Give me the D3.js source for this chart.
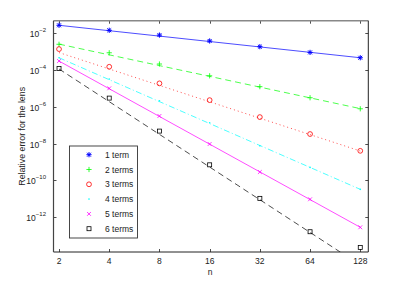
<!DOCTYPE html>
<html><head><meta charset="utf-8">
<script src="https://cdn.jsdelivr.net/npm/d3@7"></script>
<style>body{margin:0;background:#fff}svg{display:block;font-family:"Liberation Sans",Arial,sans-serif}</style>
</head><body><svg id="c" width="407" height="284"></svg>
<script>
const nValues = [2, 4, 8, 16, 32, 64, 128];
const seriesNames = ["1 term", "2 terms", "3 terms", "4 terms", "5 terms", "6 terms"];
// log10 of relative error at each n (markers)
const err1 = [-1.58, -1.85, -2.11, -2.43, -2.74, -3.05, -3.34];
const err2 = [-2.61, -3.07, -3.68, -4.32, -4.91, -5.51, -6.11];
const err3 = [-2.87, -3.83, -4.73, -5.64, -6.56, -7.48, -8.39];
const err4 = [-3.34, -4.50, -5.67, -6.87, -8.12, -9.29, -10.48];
const err5 = [-3.52, -5.00, -6.50, -8.02, -9.54, -11.02, -12.54];
const err6 = [-3.92, -5.53, -7.32, -9.15, -10.97, -12.78, -13.63];
// fitted lines: log10 values at n=2 and n=128
const fitN = [2, 128];
const fit1 = [-1.58, -3.34];
const fit2 = [-2.60, -6.10];
const fit3 = [-3.06, -8.40];
const fit4 = [-3.34, -10.48];
const fit5 = [-3.52, -12.54];
const fit6 = [-3.95, -14.59];
const yTickExps = [-2, -4, -6, -8, -10, -12];
const xLabel = "n";
const yLabel = "Relative error for the lens";

const colors = ["#0000ff", "#00ff00", "#ff0000", "#00ffff", "#ff00ff", "#000000"];
const dashes = [null, "6,4", "1,3", "6,2.5,1,2.5", null, "6,4"];
const markers = ["star", "plus", "circle", "dot", "cross", "square"];
const errs = [err1, err2, err3, err4, err5, err6];
const fits = [fit1, fit2, fit3, fit4, fit5, fit6];

const L = 53.5, R = 368.3, T = 20.7, B = 252;
const x = d3.scaleLog().base(2).domain([Math.pow(2, 0.89), Math.pow(2, 7.16)]).range([L, R]);
const y = d3.scaleLog().base(10).domain([Math.pow(10, -13.88), Math.pow(10, -1.33)]).range([B, T]);

const svg = d3.select("#c");
svg.append("defs").append("clipPath").attr("id", "clip")
  .append("rect").attr("x", L).attr("y", T).attr("width", R - L).attr("height", B - T);

svg.append("rect").attr("x", L).attr("y", T).attr("width", R - L).attr("height", B - T)
  .attr("fill", "#fff").attr("stroke", "none");

const FS = 8.5;
const tickLen = 3;
const g = svg.append("g");
nValues.forEach(n => {
  const px = Math.round(x(n)) + 0.5;
  g.append("line").attr("x1", px).attr("x2", px).attr("y1", B).attr("y2", B - tickLen).attr("stroke", "#222").attr("stroke-width", 0.8);
  g.append("line").attr("x1", px).attr("x2", px).attr("y1", T).attr("y2", T + tickLen).attr("stroke", "#222").attr("stroke-width", 0.8);
  g.append("text").attr("x", x(n)).attr("y", 263.8).attr("text-anchor", "middle")
    .attr("font-size", FS).attr("fill", "#222").text(n);
});
yTickExps.forEach(e => {
  const py = Math.round(y(Math.pow(10, e))) + 0.5;
  g.append("line").attr("x1", L).attr("x2", L + tickLen).attr("y1", py).attr("y2", py).attr("stroke", "#222").attr("stroke-width", 0.8);
  g.append("line").attr("x1", R).attr("x2", R - tickLen).attr("y1", py).attr("y2", py).attr("stroke", "#222").attr("stroke-width", 0.8);
  const t = g.append("text").attr("x", 46).attr("y", py + 3).attr("text-anchor", "end")
    .attr("font-size", FS).attr("fill", "#222");
  t.append("tspan").text("10");
  t.append("tspan").attr("dy", -4.2).attr("font-size", 6).text("\u2212" + Math.abs(e));
});

svg.append("text").attr("x", 210).attr("y", 275).attr("text-anchor", "middle")
  .attr("font-size", FS).attr("fill", "#222").text(xLabel);
svg.append("text").attr("transform", "translate(24.5," + ((T + B) / 2) + ") rotate(-90)")
  .attr("text-anchor", "middle").attr("font-size", 8.8).attr("fill", "#222").text(yLabel);

// fit lines
const plot = svg.append("g").attr("clip-path", "url(#clip)");
const line = d3.line().x(d => x(d[0])).y(d => y(Math.pow(10, d[1])));
fits.forEach((f, i) => {
  plot.append("path").datum(fitN.map((n, k) => [n, f[k]]))
    .attr("d", line).attr("fill", "none").attr("stroke", colors[i]).attr("stroke-width", 0.7)
    .attr("stroke-dasharray", dashes[i]);
});

function drawMarker(sel, type, cx, cy, color) {
  const s = 2.6;
  let d = "";
  if (type === "star") {
    d = `M${cx - s},${cy}H${cx + s}M${cx},${cy - s}V${cy + s}M${cx - s * 0.75},${cy - s * 0.75}L${cx + s * 0.75},${cy + s * 0.75}M${cx - s * 0.75},${cy + s * 0.75}L${cx + s * 0.75},${cy - s * 0.75}`;
    sel.append("path").attr("d", d).attr("stroke", color).attr("stroke-width", 1).attr("fill", "none");
  } else if (type === "plus") {
    d = `M${cx - s},${cy}H${cx + s}M${cx},${cy - s}V${cy + s}`;
    sel.append("path").attr("d", d).attr("stroke", color).attr("stroke-width", 0.8).attr("fill", "none");
  } else if (type === "circle") {
    sel.append("circle").attr("cx", cx).attr("cy", cy).attr("r", 2.4).attr("stroke", color).attr("stroke-width", 0.8).attr("fill", "none");
  } else if (type === "dot") {
    sel.append("circle").attr("cx", cx).attr("cy", cy).attr("r", 0.8).attr("fill", color);
  } else if (type === "cross") {
    const c = 1.9;
    d = `M${cx - c},${cy - c}L${cx + c},${cy + c}M${cx - c},${cy + c}L${cx + c},${cy - c}`;
    sel.append("path").attr("d", d).attr("stroke", color).attr("stroke-width", 0.8).attr("fill", "none");
  } else if (type === "square") {
    sel.append("rect").attr("x", cx - 2).attr("y", cy - 2).attr("width", 4).attr("height", 4)
      .attr("stroke", color).attr("stroke-width", 0.8).attr("fill", "none");
  }
}

const mk = svg.append("g");
errs.forEach((arr, i) => {
  arr.forEach((v, k) => drawMarker(mk, markers[i], x(nValues[k]), y(Math.pow(10, v)), colors[i]));
});

// axes frame
svg.append("line").attr("x1", L).attr("x2", R).attr("y1", T).attr("y2", T).attr("stroke", "#888").attr("stroke-width", 1.6);
svg.append("line").attr("x1", L).attr("x2", R).attr("y1", B).attr("y2", B).attr("stroke", "#222").attr("stroke-width", 1);
svg.append("line").attr("x1", L).attr("x2", L).attr("y1", T).attr("y2", B).attr("stroke", "#444").attr("stroke-width", 1.2);
svg.append("line").attr("x1", R).attr("x2", R).attr("y1", T).attr("y2", B).attr("stroke", "#222").attr("stroke-width", 1);

// legend
const lg = svg.append("g");
lg.append("rect").attr("x", 69.5).attr("y", 146).attr("width", 68).attr("height", 92)
  .attr("fill", "#fff").attr("stroke", "#333").attr("stroke-width", 0.9);
seriesNames.forEach((name, i) => {
  const ly = 154.7 + i * 14.8;
  drawMarker(lg, markers[i], 89, ly, colors[i]);
  lg.append("text").attr("x", 105).attr("y", ly + 3).attr("font-size", FS).attr("fill", "#222").text(name);
});
</script></body></html>
